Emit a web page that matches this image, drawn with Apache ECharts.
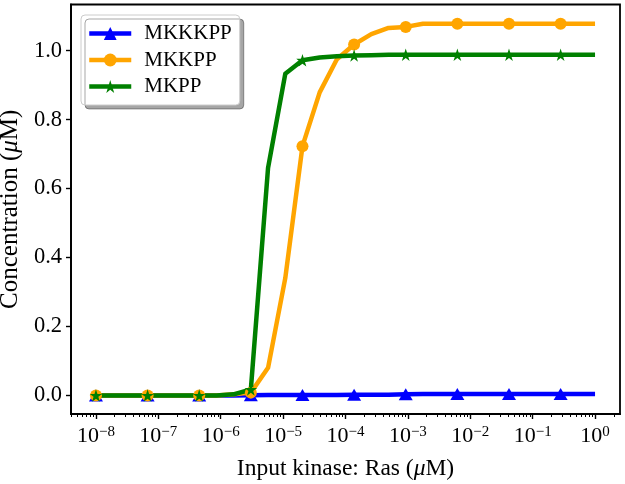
<!DOCTYPE html>
<html><head><meta charset="utf-8">
<script src="https://cdn.jsdelivr.net/npm/echarts@6/dist/echarts.min.js"></script>
<style>html,body{margin:0;padding:0;background:#fff}#c{width:625px;height:484px}</style>
</head><body><div id="c"></div>
<script>
// Input kinase concentrations (uM), 30 log-spaced points
const xValues = [1.000e-8, 1.888e-8, 3.562e-8, 6.723e-8, 1.269e-7, 2.395e-7, 4.520e-7, 8.532e-7,
  1.610e-6, 3.039e-6, 5.736e-6, 1.083e-5, 2.043e-5, 3.857e-5, 7.279e-5, 1.374e-4, 2.593e-4,
  4.894e-4, 9.237e-4, 1.743e-3, 3.290e-3, 6.210e-3, 1.172e-2, 2.212e-2, 4.175e-2, 7.880e-2,
  1.487e-1, 2.807e-1, 5.298e-1, 1.000];
const mkkkpp = [0, 0, 0, 0, 0, 0, 0, 0, 0, 0.0005, 0.001, 0.001, 0.001, 0.001, 0.001, 0.002, 0.002,
  0.002, 0.003, 0.004, 0.004, 0.004, 0.004, 0.004, 0.004, 0.004, 0.004, 0.004, 0.004, 0.004];
const mkkpp = [0, 0, 0, 0, 0, 0, 0, 0, 0.003, 0.008, 0.08, 0.34, 0.723, 0.879, 0.975, 1.018, 1.048,
  1.066, 1.069, 1.078, 1.078, 1.078, 1.078, 1.078, 1.078, 1.078, 1.078, 1.078, 1.078, 1.078];
const mkpp = [0, 0, 0, 0, 0, 0, 0, 0, 0.003, 0.017, 0.66, 0.933, 0.972, 0.98, 0.984, 0.986, 0.987,
  0.988, 0.988, 0.988, 0.988, 0.988, 0.988, 0.988, 0.988, 0.988, 0.988, 0.988, 0.988, 0.988];
const seriesNames = ['MKKKPP', 'MKKPP', 'MKPP'];
const xTickExponents = [-8, -7, -6, -5, -4, -3, -2, -1, 0];
const yTicks = [0, 0.2, 0.4, 0.6, 0.8, 1.0];

const FONT = "'Liberation Serif', 'Times New Roman', serif";
const MARK_EVERY = 3;
const xMin = Math.pow(10, -8.4), xMax = Math.pow(10, 0.4);
const majorTicks = xTickExponents.map(e => Math.pow(10, e));
const minorTicks = [];
for (let d = -9; d <= 0; d++) {
  for (let k = 2; k <= 9; k++) {
    const v = k * Math.pow(10, d);
    if (v >= xMin && v <= xMax) minorTicks.push(v);
  }
}
const starPath = 'path://M50,0 L61.2,34.5 L97.6,34.5 L68.2,55.9 L79.4,90.5 L50,69.1 L20.6,90.5 L31.8,55.9 L2.4,34.5 L38.8,34.5 Z';

function pairs(ys) { return xValues.map((x, i) => [x, ys[i]]); }
function mkSeries(name, ys, color, symbol, size) {
  return {
    name, type: 'line', data: pairs(ys), xAxisIndex: 0,
    symbol, showSymbol: true, showAllSymbol: true,
    symbolSize: (v, p) => (p.dataIndex % MARK_EVERY === 0 ? size : 0),
    lineStyle: { color, width: 4.5, join: 'round' },
    itemStyle: { color, borderWidth: 0 },
    emphasis: { disabled: true },
    z: 3
  };
}

const chart = echarts.init(document.getElementById('c'), null, { renderer: 'canvas' });
chart.setOption({
  animation: false,
  backgroundColor: '#fff',
  grid: { left: 71, right: 5, top: 4.5, bottom: 70, show: true, borderColor: '#000', borderWidth: 1.8,
    containLabel: false, outerBoundsMode: 'none' },
  legend: {
    data: seriesNames, orient: 'vertical', left: 81, top: 15,
    padding: [8, 8, 8, 6], itemGap: 5.5, itemWidth: 42, itemHeight: 16,
    backgroundColor: '#fff', borderColor: '#cccccc', borderWidth: 1, borderRadius: 4,
    shadowColor: 'rgba(0,0,0,0.35)', shadowOffsetX: 4, shadowOffsetY: 4, shadowBlur: 0,
    lineStyle: { width: 4.5 },
    textStyle: { fontFamily: FONT, fontSize: 21, color: '#000', padding: [0, 0, 0, 8] }
  },
  xAxis: [{
    type: 'log', min: xMin, max: xMax, position: 'bottom',
    name: 'Input kinase: Ras ({i|μ}M)', nameLocation: 'middle', nameGap: 43,
    nameTextStyle: { fontFamily: FONT, fontSize: 23.5, color: '#000',
      rich: { i: { fontFamily: FONT, fontSize: 23.5, fontStyle: 'italic', color: '#000' } } },
    axisLine: { show: true, onZero: false, lineStyle: { color: '#000', width: 1.8 } },
    axisTick: { show: true, length: 5, lineStyle: { color: '#000', width: 1.4 }, customValues: majorTicks },
    axisLabel: {
      customValues: majorTicks, margin: 11, color: '#000',
      formatter: v => {
        const e = Math.round(Math.log10(v));
        return '{b|10}{s|' + (e < 0 ? '\u2212' + (-e) : String(e)) + '}';
      },
      rich: {
        b: { fontFamily: FONT, fontSize: 22, color: '#000', lineHeight: 22, verticalAlign: 'bottom' },
        s: { fontFamily: FONT, fontSize: 15, color: '#000', lineHeight: 15, verticalAlign: 'top' }
      }
    },
    splitLine: { show: false }, minorTick: { show: false }, minorSplitLine: { show: false }
  }, {
    type: 'log', min: xMin, max: xMax, position: 'bottom', offset: 0,
    axisLine: { show: false, onZero: false },
    axisTick: { show: true, length: 3, lineStyle: { color: '#000', width: 1 }, customValues: minorTicks },
    axisLabel: { show: false },
    splitLine: { show: false }
  }],
  yAxis: {
    type: 'value', min: -0.054, max: 1.134,
    name: 'Concentration ({i|μ}M)', nameLocation: 'middle', nameGap: 44,
    nameTextStyle: { fontFamily: FONT, fontSize: 25, color: '#000',
      rich: { i: { fontFamily: FONT, fontSize: 25, fontStyle: 'italic', color: '#000' } } },
    axisLine: { show: true, onZero: false, lineStyle: { color: '#000', width: 1.8 } },
    axisTick: { show: true, length: 5, lineStyle: { color: '#000', width: 1.4 }, customValues: yTicks },
    axisLabel: { customValues: yTicks, margin: 9, fontFamily: FONT, fontSize: 22.5, color: '#000',
      formatter: v => v.toFixed(1) },
    splitLine: { show: false }
  },
  series: [
    mkSeries('MKKKPP', mkkkpp, '#0000ff', 'triangle', [14, 12]),
    mkSeries('MKKPP', mkkpp, '#ffa500', 'circle', 12),
    mkSeries('MKPP', mkpp, '#008000', starPath, 12.5)
  ]
});
</script>
</body></html>
